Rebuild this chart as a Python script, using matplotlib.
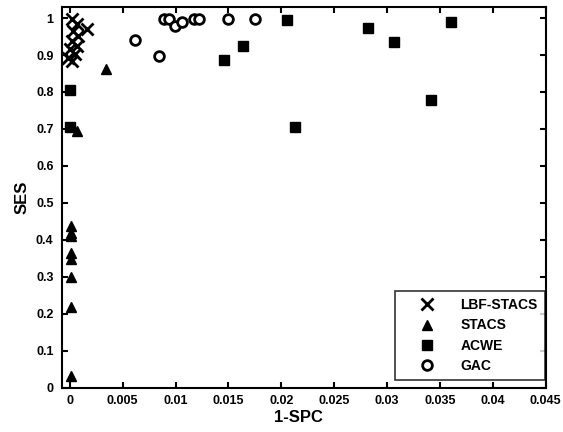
import matplotlib.pyplot as plt

# LBF-STACS
lbf_x = [0.0002, 0.0007, 0.0016, 0.0003, 0.0008, 0.0002, 0.0007, 0.0000, 0.0005, -0.0002, 0.0002]
lbf_y = [0.997, 0.984, 0.970, 0.965, 0.951, 0.938, 0.924, 0.916, 0.903, 0.892, 0.884]

# STACS
stacs_x = [0.0034, 0.0007, 0.0001, 0.0001, 0.0001, 0.0001, 0.0001, 0.0001, 0.0001, 0.0001]
stacs_y = [0.862, 0.695, 0.437, 0.420, 0.412, 0.364, 0.348, 0.300, 0.218, 0.033]

# ACWE
acwe_x = [0.0000, 0.0000, 0.0146, 0.0164, 0.0205, 0.0213, 0.0282, 0.0307, 0.0342, 0.0361]
acwe_y = [0.806, 0.706, 0.887, 0.925, 0.995, 0.706, 0.973, 0.935, 0.779, 0.989]

# GAC
gac_x = [0.0062, 0.0084, 0.0089, 0.0094, 0.0099, 0.0106, 0.0117, 0.0122, 0.0150, 0.0175]
gac_y = [0.940, 0.898, 0.998, 0.998, 0.978, 0.990, 0.998, 0.998, 0.998, 0.998]

xticks = [0, 0.005, 0.01, 0.015, 0.02, 0.025, 0.03, 0.035, 0.04, 0.045]
xtick_labels = ['0', '0.005', '0.01', '0.015', '0.02', '0.025', '0.03', '0.035', '0.04', '0.045']
yticks = [0, 0.1, 0.2, 0.3, 0.4, 0.5, 0.6, 0.7, 0.8, 0.9, 1]
ytick_labels = ['0', '0.1', '0.2', '0.3', '0.4', '0.5', '0.6', '0.7', '0.8', '0.9', '1']

plt.rcParams['font.family'] = ['Liberation Sans', 'DejaVu Sans']
plt.rcParams['font.weight'] = 'bold'

fig = plt.figure(figsize=(5.63, 4.32), dpi=100)
ax = fig.add_axes([0.110, 0.102, 0.859, 0.882])

ax.plot(lbf_x, lbf_y, 'x', color='black', markersize=8, markeredgewidth=2, label='LBF-STACS')
ax.plot(stacs_x, stacs_y, '^', color='black', markersize=7, label='STACS')
ax.plot(acwe_x, acwe_y, 's', color='black', markersize=7, label='ACWE')
ax.plot(gac_x, gac_y, 'o', color='black', markerfacecolor='white', markersize=7,
        markeredgewidth=2, label='GAC')

ax.set_xlim(-0.00075, 0.045)
ax.set_ylim(0, 1.03)
ax.set_xticks(xticks)
ax.set_xticklabels(xtick_labels)
ax.set_yticks(yticks)
ax.set_yticklabels(ytick_labels)
ax.tick_params(direction='in', top=True, right=True, length=4, width=1.5, labelsize=9)
ax.tick_params(axis='x', pad=5)
ax.tick_params(axis='y', pad=6)
for s in ax.spines.values():
    s.set_linewidth(1.5)

ax.set_xlabel('1-SPC', fontsize=12, fontweight='bold')
ax.set_ylabel('SES', fontsize=12, fontweight='bold')
ax.xaxis.set_label_coords(0.49, -0.058)
ax.yaxis.set_label_coords(-0.066, 0.5)

leg = ax.legend(loc='lower right', bbox_to_anchor=(0.998, 0.021), fontsize=10,
                frameon=True, fancybox=False, edgecolor='black', borderaxespad=0,
                handlelength=3.6, handletextpad=0.6, labelspacing=0.45, borderpad=0.5)
leg.get_frame().set_linewidth(1.2)

fig.savefig('out.png', dpi=100)
